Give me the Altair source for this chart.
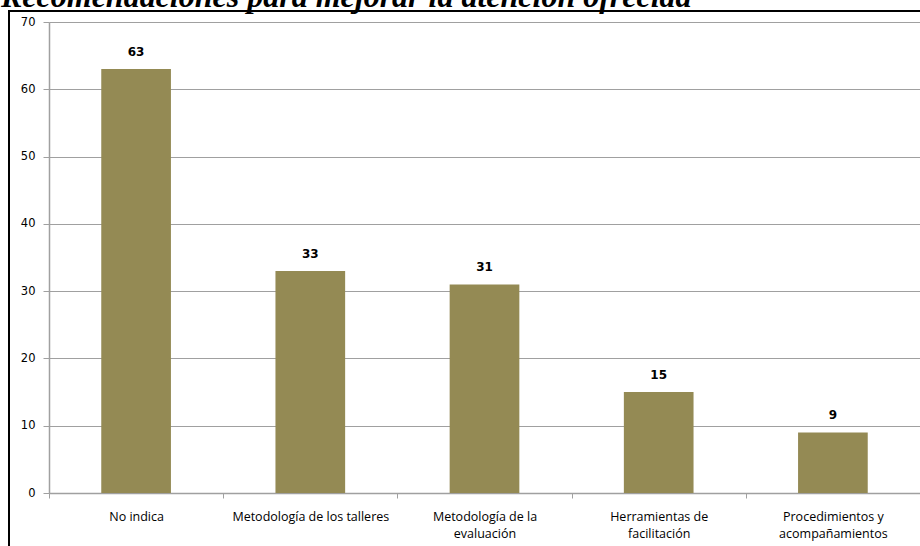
import altair as alt
import pandas as pd

titulo = "Recomendaciones para mejorar la atención ofrecida"
categorias = [
    "No indica",
    "Metodología de los talleres",
    "Metodología de la evaluación",
    "Herramientas de facilitación",
    "Procedimientos y acompañamientos",
]
valores = [63, 33, 31, 15, 9]
lineas_etiqueta = [
    ["No indica"],
    ["Metodología de los talleres"],
    ["Metodología de la", "evaluación"],
    ["Herramientas de", "facilitación"],
    ["Procedimientos y", "acompañamientos"],
]
y_ticks = [0, 10, 20, 30, 40, 50, 60, 70]

df = pd.DataFrame({"categoria": categorias, "valor": valores})

expr = "datum.label"
for cat, lines in reversed(list(zip(categorias, lineas_etiqueta))):
    arr = "[" + ",".join("'" + l + "'" for l in lines) + "]"
    expr = f"datum.label == '{cat}' ? {arr} : ({expr})"

GRID = "#a0a0a0"
W, H = 871, 471

x_enc = alt.X(
    "categoria:N",
    sort=categorias,
    scale=alt.Scale(paddingInner=0, paddingOuter=0),
    axis=alt.Axis(
        title=None,
        labelAngle=0,
        labelExpr=expr,
        labelFont="Open Sans",
        labelFontSize=12.5,
        labelColor="#000000",
        labelPadding=18,
        labelLineHeight=17,
        labelBaseline="middle",
        tickBand="extent",
        tickSize=5,
        tickColor=GRID,
        domainColor=GRID,
        domainWidth=1.5,
        grid=False,
    ),
)
y_enc = alt.Y(
    "valor:Q",
    scale=alt.Scale(domain=[0, 70], nice=False),
    axis=alt.Axis(
        title=None,
        values=y_ticks,
        labelFont="DejaVu Sans",
        labelFontSize=11.5,
        labelColor="#000000",
        labelPadding=8,
        tickSize=6,
        tickColor=GRID,
        domainColor=GRID,
        gridColor=GRID,
        gridWidth=1,
        domainWidth=1.5,
    ),
)

base = alt.Chart(df)
barras = base.mark_bar(color="#948a54", width=alt.RelativeBandSize(0.4)).encode(x=x_enc, y=y_enc)
textos = base.mark_text(
    dy=-10, baseline="bottom", font="DejaVu Sans", fontSize=12, fontWeight="bold", color="#000000"
).encode(x=alt.X("categoria:N", sort=categorias), y="valor:Q", text="valor:Q")

uno = pd.DataFrame({"a": [0]})
marco_sup = alt.Chart(uno).mark_rule(color="#000000", strokeWidth=2).encode(
    x=alt.value(-41), x2=alt.value(W + 100), y=alt.value(-11)
)
marco_izq = alt.Chart(uno).mark_rule(color="#000000", strokeWidth=2).encode(
    x=alt.value(-40), y=alt.value(-12), y2=alt.value(H + 100)
)

tit = alt.Chart(pd.DataFrame({"t": [titulo]})).mark_text(
    align="left", baseline="alphabetic", font="Liberation Serif",
    fontStyle="italic", fontWeight="bold", fontSize=32, color="#000000"
).encode(text="t:N", x=alt.value(-48), y=alt.value(-15))

chart = alt.layer(barras, textos, marco_sup, marco_izq, tit).properties(
    width=W, height=H,
    autosize=alt.AutoSizeParams(type="none"),
    padding={"left": 49, "top": 22, "right": 0, "bottom": 53},
).configure_view(stroke=None).configure(background="white")

chart.save("out.html", embed_options={"renderer": "svg", "actions": False})
